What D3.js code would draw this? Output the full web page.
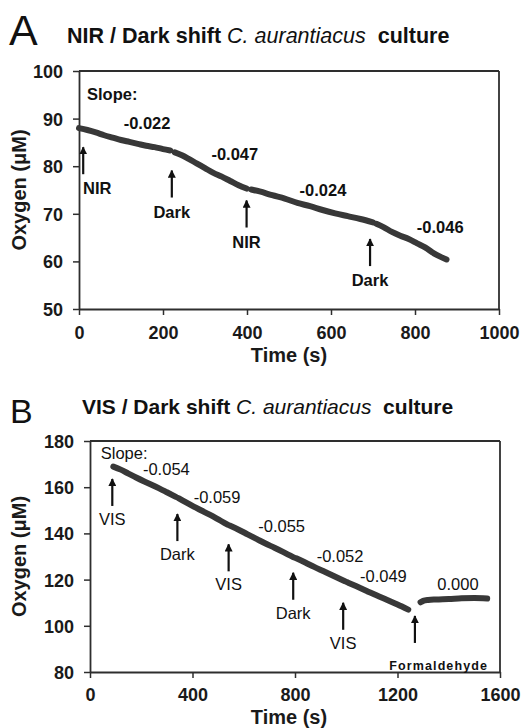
<!DOCTYPE html>
<html><head><meta charset="utf-8">
<script src="https://cdn.jsdelivr.net/npm/d3@7"></script>
<style>
html,body{margin:0;padding:0;background:#fff;}
svg{display:block;font-family:"Liberation Sans",Arial,sans-serif;}
</style></head>
<body>
<script>
// ---------- Panel A data (NIR / Dark) ----------
const aXTicks = [0, 200, 400, 600, 800, 1000];
const aYTicks = [50, 60, 70, 80, 90, 100];
const aTime1 = [0, 20, 40, 60, 80, 100, 120, 140, 160, 180, 200, 217];
const aO2_1  = [88.0, 87.6, 87.1, 86.5, 86.0, 85.5, 85.1, 84.7, 84.3, 84.0, 83.6, 83.3];
const aTime2 = [228, 245, 260, 280, 300, 320, 340, 360, 380, 399];
const aO2_2  = [82.9, 82.3, 81.6, 80.6, 79.6, 78.6, 77.8, 76.9, 76.0, 75.3];
const aTime3 = [410, 430, 460, 490, 520, 550, 580, 610, 640, 670, 700];
const aO2_3  = [75.1, 74.7, 73.9, 73.2, 72.3, 71.6, 70.8, 70.1, 69.5, 68.9, 68.2];
const aTime4 = [708, 725, 745, 765, 785, 805, 825, 845, 860, 875];
const aO2_4  = [67.9, 67.2, 66.2, 65.4, 64.7, 63.8, 62.9, 61.7, 61.0, 60.4];
const aEventLabels = ["NIR", "Dark", "NIR", "Dark"];
const aEventTimes  = [10, 221, 399, 693];
const aEventO2     = [84.2, 79.3, 73.0, 64.9];
const aSlopeLabels = ["-0.022", "-0.047", "-0.024", "-0.046"];
const aSlopeTimes  = [162, 371, 581, 860];
const aSlopeO2     = [87.8, 81.4, 73.7, 66.0];

// ---------- Panel B data (VIS / Dark) ----------
const bXTicks = [0, 400, 800, 1200, 1600];
const bYTicks = [80, 100, 120, 140, 160, 180];
const bTime1 = [91, 120, 150, 180, 210, 240, 270, 300, 335];
const bO2_1  = [168.9, 167.6, 165.9, 164.2, 162.6, 161.1, 159.5, 157.8, 155.8];
const bTime2 = [345, 375, 405, 435, 465, 495, 535];
const bO2_2  = [155.3, 153.4, 151.6, 149.9, 148.2, 146.4, 143.9];
const bTime3 = [545, 580, 615, 650, 685, 720, 755, 795];
const bO2_3  = [143.4, 141.6, 139.6, 137.6, 135.6, 133.8, 131.9, 129.6];
const bTime4 = [805, 840, 875, 910, 945, 995];
const bO2_4  = [129.2, 127.4, 125.5, 123.7, 121.9, 119.3];
const bTime5 = [1005, 1040, 1080, 1120, 1160, 1200, 1242];
const bO2_5  = [118.8, 117.1, 115.1, 113.1, 111.2, 109.2, 107.0];
const bTime6 = [1290, 1300, 1320, 1350, 1400, 1450, 1500, 1550];
const bO2_6  = [110.2, 110.8, 111.2, 111.4, 111.6, 111.9, 112.0, 111.8];
const bEventLabels = ["VIS", "Dark", "VIS", "Dark", "VIS", "Formaldehyde"];
const bEventTimes  = [87, 341, 541, 793, 988, 1268];
const bEventO2     = [164.0, 148.8, 135.7, 123.4, 110.4, 104.7];
const bSlopeLabels = ["-0.054", "-0.059", "-0.055", "-0.052", "-0.049", "0.000"];
const bSlopeTimes  = [298, 496, 748, 976, 1145, 1436];
const bSlopeO2     = [165.3, 153.3, 140.5, 127.7, 119.1, 115.5];

const zip = (t, v) => t.map((d, i) => ({t: d, v: v[i]}));

const svg = d3.select("body").append("svg").attr("width", 525).attr("height", 728);
svg.append("defs").append("marker")
  .attr("id", "ah").attr("viewBox", "0 0 10 10").attr("refX", 9).attr("refY", 5)
  .attr("markerWidth", 8).attr("markerHeight", 8).attr("markerUnits", "userSpaceOnUse")
  .attr("orient", "auto")
  .append("path").attr("d", "M0,0 L10,5 L0,10 z").attr("fill", "#111");

function panel(cfg) {
  const x = d3.scaleLinear().domain(cfg.xDomain).range([cfg.left, cfg.right]);
  const y = d3.scaleLinear().domain(cfg.yDomain).range([cfg.bottom, cfg.top]);
  const g = svg.append("g");
  const axisColor = "#2e2e2e";

  // frame (top & right)
  g.append("line").attr("x1", cfg.left).attr("x2", cfg.right).attr("y1", cfg.top).attr("y2", cfg.top)
    .attr("stroke", axisColor).attr("stroke-width", 1.8);
  g.append("line").attr("x1", cfg.right).attr("x2", cfg.right).attr("y1", cfg.top).attr("y2", cfg.bottom)
    .attr("stroke", axisColor).attr("stroke-width", 1.8);

  const xa = g.append("g").attr("transform", `translate(0,${cfg.bottom})`)
    .call(d3.axisBottom(x).tickValues(cfg.xTicks).tickFormat(d3.format("d")).tickSize(6).tickSizeOuter(0));
  const ya = g.append("g").attr("transform", `translate(${cfg.left},0)`)
    .call(d3.axisLeft(y).tickValues(cfg.yTicks).tickFormat(d3.format("d")).tickSize(6).tickSizeOuter(0).tickPadding(10));
  [xa, ya].forEach(a => {
    a.select(".domain").attr("stroke", axisColor).attr("stroke-width", 1.8);
    a.selectAll(".tick line").attr("stroke", axisColor).attr("stroke-width", 1.5);
    a.selectAll("text").attr("fill", "#1a1a1a").attr("font-size", 18).attr("font-weight", "bold")
      .attr("font-family", '"Liberation Sans",Arial,sans-serif');
  });
  xa.selectAll("text").attr("y", cfg.xLabelOff).attr("dy", 0);
  ya.selectAll("text").attr("dy", "0.36em");

  // axis titles
  g.append("text").attr("x", cfg.timeX).attr("y", cfg.timeY).attr("text-anchor", "middle")
    .attr("font-size", 20).attr("font-weight", "bold").attr("fill", "#1a1a1a").text("Time (s)");
  g.append("text").attr("transform", `translate(${cfg.oxyX},${(cfg.top + cfg.bottom) / 2}) rotate(-90)`)
    .attr("text-anchor", "middle").attr("font-size", 20).attr("font-weight", "bold").attr("fill", "#1a1a1a")
    .text("Oxygen (μM)");

  // curve
  const line = d3.line().x(d => x(d.t)).y(d => y(d.v)).curve(d3.curveMonotoneX);
  cfg.segments.forEach(s => {
    g.append("path").attr("d", line(s)).attr("fill", "none").attr("stroke", "#383838")
      .attr("stroke-width", 6).attr("stroke-linecap", "round").attr("stroke-linejoin", "round");
  });

  // slope label
  g.append("text").attr("x", x(cfg.slopeHead[0])).attr("y", y(cfg.slopeHead[1]))
    .attr("font-size", cfg.annSize).attr("font-weight", cfg.annWeight).attr("fill", "#111").text("Slope:");
  cfg.slopeLabels.forEach((s, i) => {
    g.append("text").attr("x", x(cfg.slopeTimes[i])).attr("y", y(cfg.slopeO2[i]))
      .attr("text-anchor", "middle").attr("font-size", cfg.annSize).attr("font-weight", cfg.annWeight)
      .attr("fill", "#111").text(s);
  });

  // arrows
  cfg.eventLabels.forEach((lab, i) => {
    const ax = x(cfg.eventTimes[i]);
    const tipY = y(cfg.eventO2[i]);
    const tailY = tipY + 28;
    g.append("line").attr("x1", ax).attr("x2", ax).attr("y1", tailY).attr("y2", tipY + 1)
      .attr("stroke", "#111").attr("stroke-width", 2.2).attr("marker-end", "url(#ah)");
    const small = lab.length > 6;
    const t = g.append("text").attr("y", tailY + (small ? 27 : cfg.labelGap))
      .attr("fill", "#111")
      .attr("font-size", small ? 12.5 : cfg.annSize)
      .attr("font-weight", small ? "bold" : cfg.annWeight)
      .attr("letter-spacing", small ? 1.1 : 0).text(lab);
    if (small) {
      // long label sits right-aligned inside the frame, as in the source figure
      t.attr("text-anchor", "end").attr("x", cfg.right - 12);
    } else {
      t.attr("text-anchor", "middle");
      const w = t.node().getComputedTextLength();
      t.attr("x", Math.max(ax, cfg.left + 4 + w / 2));
    }
  });

  // titles
  g.append("text").attr("x", cfg.letterX).attr("y", cfg.letterY).attr("font-size", cfg.letterSize)
    .attr("fill", "#111").text(cfg.letter);
  const tt = g.append("text").attr("x", cfg.titleX).attr("y", cfg.titleY).attr("font-size", cfg.titleSize)
    .attr("fill", "#111");
  tt.append("tspan").attr("font-weight", "bold").text(cfg.titlePre + " / Dark shift ");
  tt.append("tspan").attr("font-style", "italic").text("C. aurantiacus");
  tt.append("tspan").attr("font-weight", "bold").text("\u00a0 culture");
}

panel({
  xDomain: [0, 1000], yDomain: [50, 100], left: 79, right: 499, top: 71, bottom: 309,
  xTicks: aXTicks, yTicks: aYTicks, xLabelOff: 30, timeX: 289, timeY: 362, oxyX: 26,
  segments: [zip(aTime1, aO2_1), zip(aTime2, aO2_2), zip(aTime3, aO2_3), zip(aTime4, aO2_4)],
  slopeHead: [19, 93.9], slopeLabels: aSlopeLabels, slopeTimes: aSlopeTimes, slopeO2: aSlopeO2,
  eventLabels: aEventLabels, eventTimes: aEventTimes, eventO2: aEventO2, labelGap: 20,
  annWeight: "bold", annSize: 16.5,
  letter: "A", letterX: 9, letterY: 45, letterSize: 43,
  titlePre: "NIR", titleX: 67, titleY: 43, titleSize: 21.5
});

panel({
  xDomain: [0, 1600], yDomain: [80, 180], left: 90, right: 500, top: 441, bottom: 672,
  xTicks: bXTicks, yTicks: bYTicks, xLabelOff: 29, timeX: 289, timeY: 724, oxyX: 26,
  segments: [zip(bTime1, bO2_1), zip(bTime2, bO2_2), zip(bTime3, bO2_3), zip(bTime4, bO2_4),
             zip(bTime5, bO2_5), zip(bTime6, bO2_6)],
  slopeHead: [42, 172.2], slopeLabels: bSlopeLabels, slopeTimes: bSlopeTimes, slopeO2: bSlopeO2,
  eventLabels: bEventLabels, eventTimes: bEventTimes, eventO2: bEventO2, labelGap: 19,
  annWeight: "normal", annSize: 16.5,
  letter: "B", letterX: 10, letterY: 423, letterSize: 34,
  titlePre: "VIS", titleX: 82, titleY: 414, titleSize: 21
});
</script>
</body></html>
